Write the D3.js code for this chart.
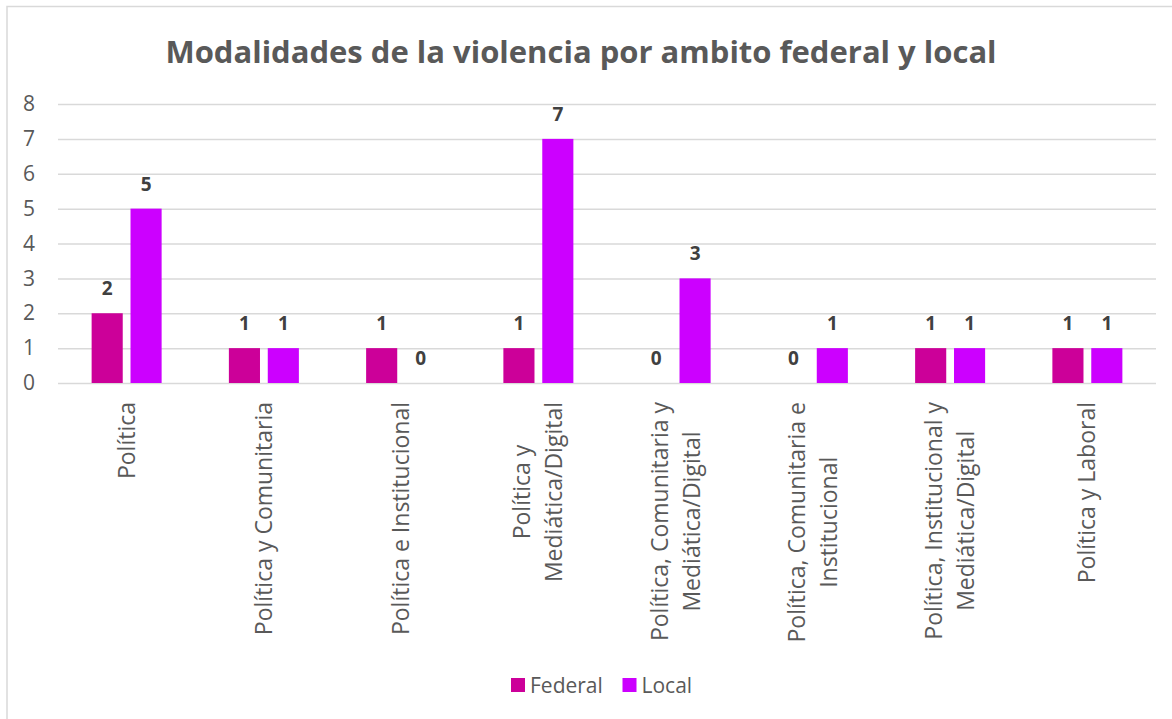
<!DOCTYPE html>
<html lang="es">
<head>
    <meta charset="UTF-8">
    <title>Modalidades de la violencia por ambito federal y local</title>
    <script src="https://d3js.org/d3.v7.min.js"></script>
    <style>
        body { margin: 0; background: #fff; }
        text { font-family: "Open Sans", sans-serif; fill: #595959; }
        .title { font-size: 31px; font-weight: bold; }
        .tick-label { font-size: 21px; }
        .cat-label { font-size: 23px; }
        .legend-label { font-size: 21px; }
        .value-label { font-size: 19px; font-weight: bold; fill: #404040; }
    </style>
</head>
<body>
<script>
    const categories = [
        ["Política"],
        ["Política y Comunitaria"],
        ["Política e Institucional"],
        ["Política y", "Mediática/Digital"],
        ["Política, Comunitaria y", "Mediática/Digital"],
        ["Política, Comunitaria e", "Institucional"],
        ["Política, Institucional y", "Mediática/Digital"],
        ["Política y Laboral"]
    ]
    const federal = [2, 1, 1, 1, 0, 0, 1, 1]
    const local = [5, 1, 0, 7, 3, 1, 1, 1]
    const seriesNames = ["Federal", "Local"]
    const colors = ["#CC0099", "#CC00FF"]
    const yTicks = [0, 1, 2, 3, 4, 5, 6, 7, 8]

    const W = 1172, H = 719
    const plot = {left: 58, right: 1156, top: 104, bottom: 383}

    const svg = d3.select("body").append("svg")
        .attr("width", W)
        .attr("height", H)

    // chart frame
    svg.append("rect")
        .attr("x", 7).attr("y", 6.5)
        .attr("width", W).attr("height", H)
        .attr("fill", "none")
        .attr("stroke", "#d9d9d9")
        .attr("stroke-width", 1.5)

    svg.append("text")
        .attr("class", "title")
        .attr("x", 581)
        .attr("y", 63)
        .attr("text-anchor", "middle")
        .text("Modalidades de la violencia por ambito federal y local")

    const keys = categories.map((c, i) => i)

    const x0 = d3.scaleBand()
        .domain(keys)
        .range([plot.left, plot.right])

    const x1 = d3.scaleBand()
        .domain(seriesNames)
        .range([-35, 35])
        .paddingInner(0.2)

    const y = d3.scaleLinear()
        .domain([0, 8])
        .range([plot.bottom, plot.top])

    // gridlines + y labels
    const yAxis = svg.append("g")
        .attr("transform", "translate(" + plot.left + ",0)")
        .call(d3.axisLeft(y).tickValues(yTicks).tickSize(-(plot.right - plot.left)).tickPadding(23))
    yAxis.select(".domain").remove()
    yAxis.selectAll(".tick line").attr("stroke", "#d9d9d9").attr("stroke-width", 1.5)
    yAxis.attr("font-size", null).attr("font-family", null)
    yAxis.selectAll(".tick text")
        .attr("class", "tick-label")
        .attr("fill", null)

    const rows = keys.map(i => ({i, values: [federal[i], local[i]]}))

    const groups = svg.append("g").selectAll("g")
        .data(rows)
        .enter().append("g")
        .attr("transform", d => "translate(" + (x0(d.i) + x0.bandwidth() / 2) + ",0)")

    groups.selectAll("rect")
        .data(d => d.values.map((v, s) => ({v, s})))
        .enter().append("rect")
        .attr("x", d => x1(seriesNames[d.s]))
        .attr("y", d => y(d.v))
        .attr("width", x1.bandwidth())
        .attr("height", d => y(0) - y(d.v))
        .attr("fill", d => colors[d.s])

    groups.selectAll(".value-label")
        .data(d => d.values.map((v, s) => ({v, s})))
        .enter().append("text")
        .attr("class", "value-label")
        .attr("x", d => x1(seriesNames[d.s]) + x1.bandwidth() / 2)
        .attr("y", d => y(d.v) - 18)
        .attr("text-anchor", "middle")
        .text(d => d.v)

    // category labels, rotated, lines centred on each other
    const labelTop = plot.bottom + 19
    const lineGap = 32
    svg.append("g").selectAll("g")
        .data(rows)
        .enter().append("g")
        .each(function (d) {
            const lines = categories[d.i]
            const g = d3.select(this)
            const cx = x0(d.i) + x0.bandwidth() / 2
            const texts = lines.map(line => g.append("text")
                .attr("class", "cat-label")
                .attr("text-anchor", "middle")
                .text(line))
            const maxW = d3.max(texts, t => t.node().getComputedTextLength())
            const cy = labelTop + maxW / 2
            texts.forEach((t, k) => {
                const px = cx + (k - (lines.length - 1) / 2) * lineGap + 8
                t.attr("transform", "translate(" + px + "," + cy + ") rotate(-90)")
            })
        })

    // legend
    const legend = svg.append("g").attr("transform", "translate(511,678)")
    const legendX = [0, 111.5]
    seriesNames.forEach((name, s) => {
        legend.append("rect")
            .attr("x", legendX[s]).attr("y", 0)
            .attr("width", 14).attr("height", 14)
            .attr("fill", colors[s])
        legend.append("text")
            .attr("class", "legend-label")
            .attr("x", legendX[s] + 19)
            .attr("y", 14.5)
            .text(name)
    })
</script>
</body>
</html>
